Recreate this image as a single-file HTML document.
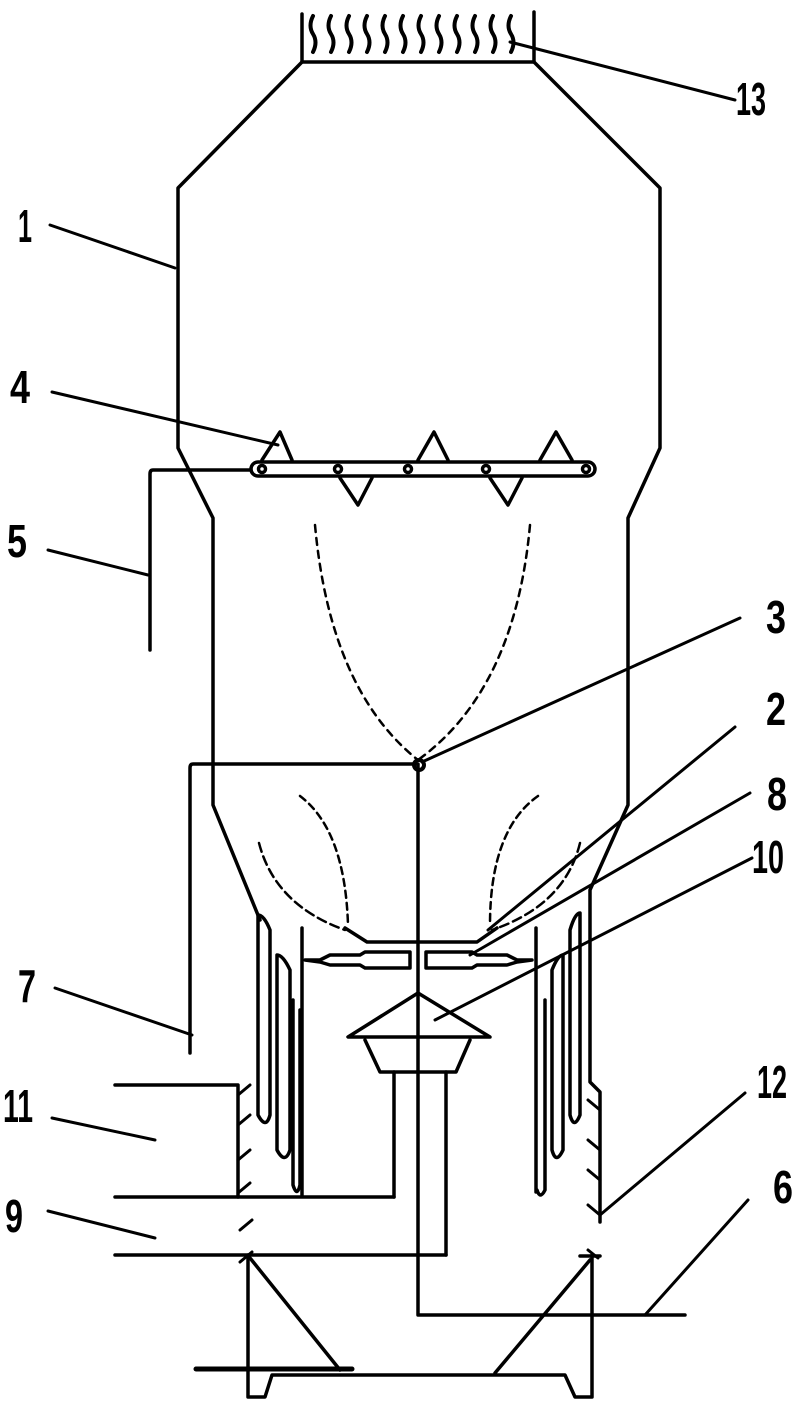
<!DOCTYPE html>
<html><head><meta charset="utf-8"><style>
html,body{margin:0;padding:0;background:#fff}
svg{display:block}
text{font-family:"Liberation Sans",sans-serif;font-weight:bold;font-size:46px;fill:#000}
</style></head><body>
<svg width="806" height="1404" viewBox="0 0 806 1404" xmlns="http://www.w3.org/2000/svg">
<g fill="none" stroke="#000" stroke-width="3.5" stroke-linejoin="round" stroke-linecap="round">
<!-- top -->
<path d="M302,14 V62 H534 V12"/>
<g stroke-width="4">
<path d="M313,16 q-5,10 0,18 q5,8 0,18"/><path d="M331,16 q-5,10 0,18 q5,8 0,18"/><path d="M349,16 q-5,10 0,18 q5,8 0,18"/><path d="M367,16 q-5,10 0,18 q5,8 0,18"/><path d="M385,16 q-5,10 0,18 q5,8 0,18"/><path d="M403,16 q-5,10 0,18 q5,8 0,18"/><path d="M421,16 q-5,10 0,18 q5,8 0,18"/><path d="M439,16 q-5,10 0,18 q5,8 0,18"/><path d="M457,16 q-5,10 0,18 q5,8 0,18"/><path d="M475,16 q-5,10 0,18 q5,8 0,18"/><path d="M493,16 q-5,10 0,18 q5,8 0,18"/><path d="M511,16 q-5,10 0,18 q5,8 0,18"/>
</g>
<!-- vessel walls -->
<path d="M302,62 L178,188 V448 L213,518 V805 L260,920"/>
<path d="M534,62 L660,188 V448 L628,518 V805 L590,890 V1082 L600,1092 V1222"/>
<!-- spray bar -->
<path d="M258,462 H588 A7,7 0 0 1 588,476 H258 A7,7 0 0 1 258,462 Z"/>
<path d="M250,470 H153 Q150,470 150,474 V650"/>
<path d="M262,460 L280,432 L292,460"/><path d="M418,460 L434,432 L448,460"/><path d="M540,460 L556,432 L572,460"/>
<path d="M340,478 L358,505 L372,478"/><path d="M490,478 L508,505 L522,478"/>
<circle cx="262" cy="469" r="3.5"/><circle cx="338" cy="469" r="3.5"/><circle cx="408" cy="469" r="3.5"/><circle cx="486" cy="469" r="3.5"/><circle cx="586" cy="469" r="3.5"/>
<!-- dashed spray -->
<path d="M315,525 Q330,690 418,760" stroke-dasharray="7,6" stroke-width="2.5"/>
<path d="M530,525 Q515,690 418,760" stroke-dasharray="7,6" stroke-width="2.5"/>
<path d="M300,796 Q345,830 348,925" stroke-dasharray="7,5" stroke-width="2.5"/>
<path d="M538,796 Q490,830 490,925" stroke-dasharray="7,5" stroke-width="2.5"/>
<path d="M259,843 Q275,905 345,930" stroke-dasharray="9,5" stroke-width="2.5"/>
<path d="M580,843 Q565,905 492,930" stroke-dasharray="9,5" stroke-width="2.5"/>
<!-- shaft, line 7 -->
<path d="M418,765 V1315 H685"/>
<path d="M418,764 H193 Q190,764 190,768 V1053"/>
<circle cx="419" cy="765" r="5" stroke-width="4"/>
<!-- distributor 2 -->
<path d="M345,928 L367,942 H477 L497,928"/>
<!-- distributor 8 -->
<path d="M305,960 H320 L330,955 H360 L365,952 H410 V968 H365 L360,965 H330 L320,962 Z"/>
<path d="M532,960 H517 L507,955 H477 L472,952 H426 V968 H472 L477,965 H507 L517,962 Z"/>
<!-- cone 10 -->
<path d="M418,993 L348,1037 H490 Z"/>
<path d="M365,1040 L380,1072 H456 L470,1040"/>
<path d="M394,1072 V1197"/><path d="M446,1072 V1255"/>
<!-- side plates -->
<path d="M302,928 V1195"/><path d="M536,928 V1192"/>
<!-- coils left -->
<path d="M258,915 V1115 Q266,1130 270,1115 V930 Q264,915 258,915"/>
<path d="M277,955 V1150 Q285,1165 290,1150 V970 Q283,955 277,955"/>
<path d="M293,1000 V1185 Q297,1198 300,1185 V1010"/>
<!-- coils right -->
<path d="M580,913 V1115 Q574,1130 570,1115 V930 Q575,913 580,913"/>
<path d="M563,955 V1150 Q556,1165 552,1150 V970 Q558,955 563,955"/>
<path d="M545,1000 V1190 Q540,1200 537,1190"/>
<!-- lower box left -->
<path d="M115,1085 H238 V1197"/>
<path d="M115,1197 H394"/>
<path d="M115,1255 H446"/>
<g stroke-width="3"><path d="M238,1095 L250,1085"/><path d="M238,1125 L250,1115"/><path d="M238,1160 L250,1150"/><path d="M238,1193 L250,1183"/><path d="M240,1230 L252,1220"/><path d="M240,1262 L252,1252"/>
<path d="M600,1110 L588,1100"/><path d="M600,1150 L588,1140"/><path d="M600,1180 L588,1170"/><path d="M600,1215 L588,1205"/><path d="M598,1258 L588,1250"/></g>
<!-- base -->
<path d="M248,1255 V1397 H265 L272,1375 H565 L575,1397 H592 V1255"/>
<path d="M580,1256 H600"/>
<path d="M196,1369 H352" stroke-width="5"/>
<path d="M250,1258 L340,1370"/><path d="M590,1260 L495,1373"/>
<!-- leaders -->
<g stroke-width="3">
<path d="M735,100 L510,42"/>
<path d="M50,225 L175,268"/>
<path d="M52,392 L278,445"/>
<path d="M48,550 L148,575"/>
<path d="M740,618 L422,762"/>
<path d="M735,727 L488,930"/>
<path d="M750,793 L470,955"/>
<path d="M752,858 L435,1020"/>
<path d="M55,988 L192,1035"/>
<path d="M52,1118 L155,1140"/>
<path d="M48,1211 L155,1238"/>
<path d="M745,1093 L600,1215"/>
<path d="M748,1200 L645,1315"/>
</g>
</g>
<g>
<text x="736" y="115" textLength="30" lengthAdjust="spacingAndGlyphs">13</text>
<text x="18" y="242" textLength="14" lengthAdjust="spacingAndGlyphs">1</text>
<text x="10" y="403" textLength="20" lengthAdjust="spacingAndGlyphs">4</text>
<text x="7" y="557" textLength="20" lengthAdjust="spacingAndGlyphs">5</text>
<text x="766" y="633" textLength="20" lengthAdjust="spacingAndGlyphs">3</text>
<text x="766" y="725" textLength="20" lengthAdjust="spacingAndGlyphs">2</text>
<text x="767" y="810" textLength="20" lengthAdjust="spacingAndGlyphs">8</text>
<text x="752" y="873" textLength="32" lengthAdjust="spacingAndGlyphs">10</text>
<text x="18" y="1002" textLength="18" lengthAdjust="spacingAndGlyphs">7</text>
<text x="3" y="1122" textLength="30" lengthAdjust="spacingAndGlyphs">11</text>
<text x="5" y="1232" textLength="18" lengthAdjust="spacingAndGlyphs">9</text>
<text x="757" y="1098" textLength="30" lengthAdjust="spacingAndGlyphs">12</text>
<text x="773" y="1203" textLength="20" lengthAdjust="spacingAndGlyphs">6</text>
</g>
</svg>
</body></html>
